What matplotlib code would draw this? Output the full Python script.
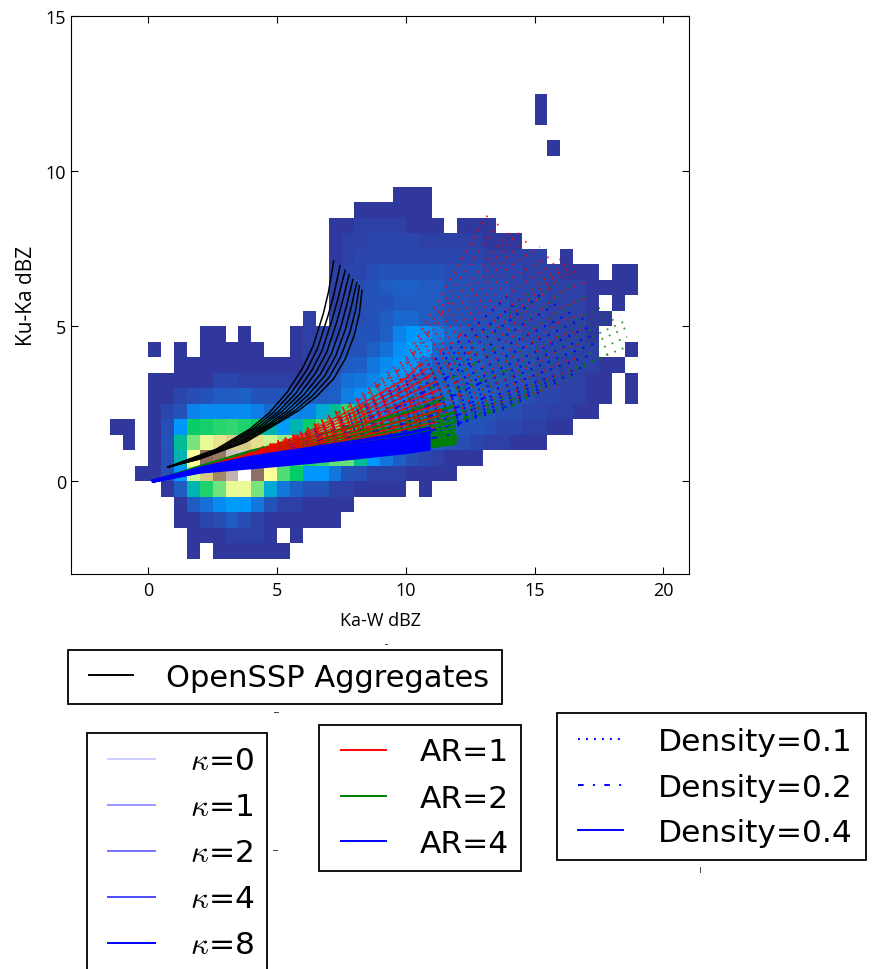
import matplotlib
matplotlib.use('Agg')
import matplotlib.pyplot as plt
from matplotlib.lines import Line2D
from matplotlib.patches import Rectangle
import numpy as np

plt.rcParams['mathtext.fontset'] = 'cm'

W, H = 872, 970

# 2d histogram, levels are in percent of the terrain colormap, 0 = empty bin
bin_size = 0.5
hist_y = [-2.5, -2, -1.5, -1, -0.5, 0, 0.5, 1, 1.5, 2, 2.5, 3, 3.5, 4, 4.5, 5, 5.5, 6, 6.5, 7, 7.5, 8, 8.5, 9,
          10.5, 11.5, 12]
hist_x0 = [1.5, 1.5, 1, 1, 0.5, -0.5, 0, -1, -1.5, 0, 0, 0, 1, 0, 2, 6, 7, 7, 7, 7, 7, 7, 8, 9.5,
           15.5, 15, 15]
hist_levels = [
    [1, 0, 1, 1, 1, 1, 1, 1],
    [1, 1, 1, 2, 2, 2, 1, 0, 1],
    [1, 1, 3, 4, 6, 4, 2, 1, 1, 1, 1, 1, 1],
    [1, 6, 9, 13, 16, 15, 10, 5, 2, 2, 1, 1, 1, 1],
    [1, 6, 20, 28, 36, 48, 48, 37, 18, 10, 7, 5, 5, 2, 2, 1, 1, 1, 1, 0, 1],
    [1, 1, 4, 15, 45, 58, 68, 88, 100, 78, 50, 33, 25, 15, 15, 10, 5, 4, 2, 2, 2, 1, 1, 1, 1],
    [1, 4, 20, 50, 72, 70, 90, 92, 62, 48, 40, 32, 28, 30, 35, 35, 22, 15, 10, 7, 4, 3, 2, 1, 1, 1],
    [1, 0, 1, 5, 22, 37, 48, 54, 57, 58, 55, 45, 40, 38, 38, 36, 33, 28, 20, 15, 12, 8, 6, 5, 6, 5, 4, 3, 2, 2, 1, 1, 1],
    [1, 1, 0, 1, 4, 15, 26, 27, 29, 30, 28, 26, 20, 16, 20, 26, 32, 36, 32, 25, 18, 15, 12, 8, 6, 6, 6, 5, 5, 4, 3, 3, 2, 2, 1, 1],
    [1, 3, 5, 12, 13, 13, 13, 13, 11, 8, 10, 12, 12, 18, 22, 30, 22, 14, 11, 9, 8, 8, 7, 6, 6, 5, 5, 4, 4, 3, 3, 2, 2, 1, 1],
    [1, 1, 3, 4, 5, 6, 6, 7, 5, 5, 5, 6, 7, 6, 7, 11, 14, 18, 14, 11, 9, 8, 8, 8, 7, 7, 6, 5, 4, 4, 3, 3, 2, 2, 1, 1, 0, 1],
    [1, 1, 1, 1, 1, 3, 3, 2, 2, 2, 2, 2, 3, 4, 6, 9, 10, 12, 16, 14, 10, 8, 7, 7, 6, 6, 5, 5, 4, 4, 3, 3, 2, 2, 1, 1, 0, 1],
    [1, 1, 1, 1, 1, 1, 1, 1, 1, 1, 2, 3, 4, 6, 7, 10, 13, 15, 14, 9, 7, 7, 7, 6, 5, 5, 4, 4, 3, 3, 2, 2, 2, 1, 1],
    [1, 0, 1, 0, 1, 1, 1, 1, 1, 0, 0, 1, 2, 3, 4, 5, 5, 7, 9, 14, 16, 15, 8, 7, 6, 6, 5, 5, 4, 4, 3, 3, 3, 2, 2, 0, 0, 1],
    [1, 1, 0, 1, 0, 0, 0, 1, 2, 3, 3, 4, 5, 5, 7, 12, 15, 14, 11, 8, 6, 5, 5, 4, 4, 3, 3, 3, 2, 2, 1],
    [2, 0, 3, 3, 4, 5, 6, 8, 8, 6, 6, 5, 5, 4, 4, 4, 3, 3, 3, 2, 2, 2, 1, 1],
    [2, 3, 4, 5, 5, 6, 6, 6, 6, 5, 5, 4, 4, 4, 3, 3, 3, 2, 2, 2, 1, 0, 1],
    [2, 3, 4, 5, 6, 7, 7, 6, 6, 5, 5, 4, 4, 4, 3, 3, 3, 2, 2, 2, 1, 1, 1, 1],
    [2, 3, 3, 4, 5, 5, 5, 5, 5, 4, 4, 4, 3, 3, 3, 2, 2, 2, 1, 1, 1, 0, 1, 1],
    [1, 2, 3, 3, 3, 3, 3, 3, 3, 3, 3, 3, 2, 2, 2, 2, 2, 0, 1],
    [1, 2, 2, 3, 3, 3, 3, 2, 2, 2, 2, 2, 1, 1, 1],
    [1, 1, 2, 2, 2, 2, 1, 1, 1, 0, 1, 1, 1],
    [1, 1, 1, 1, 1, 1],
    [1, 1, 1],
    [1],
    [1],
    [1],
]

# model curves, y read at these x positions and then a last tip point
knots = [0.2, 2, 4, 6, 8, 10, 12, 14, 16]

blue_solid_y = [
    [0, .29, .43, .58, .74, .92], [0, .30, .47, .63, .80, .99], [0, .31, .51, .68, .86, 1.06],
    [0, .33, .55, .73, .92, 1.13], [0, .34, .59, .79, .99, 1.21], [0, .36, .64, .85, 1.07, 1.30],
    [0, .38, .70, .93, 1.16, 1.40], [0, .41, .77, 1.02, 1.27, 1.53],
]
blue_solid_tip = [(10.9, 1.03), (10.9, 1.10), (10.9, 1.18), (10.9, 1.26), (10.9, 1.35), (10.9, 1.45), (10.9, 1.56), (10.9, 1.70)]

green_solid_y = [
    [0, .30, .47, .64, .81, 1.00], [0, .31, .50, .68, .86, 1.06], [0, .32, .53, .72, .92, 1.13], [0, .33, .565, .77, .98, 1.2],
    [0, .34, .60, .82, 1.04, 1.28], [0, .355, .64, .88, 1.11, 1.37], [0, .37, .68, .94, 1.19, 1.47], [0, .385, .73, 1.0, 1.28, 1.58],
    [0, .40, .78, 1.07, 1.37, 1.69], [0, .42, .84, 1.15, 1.48, 1.83], [0, .44, .90, 1.24, 1.59, 1.97], [0, .47, .97, 1.36, 1.76, 2.2],
]
green_solid_tip = [(11.9, 1.20), (11.95, 1.28), (11.95, 1.36), (11.95, 1.45), (11.9, 1.55), (11.9, 1.65), (11.9, 1.77), (11.9, 1.9),
                   (11.9, 2.05), (11.85, 2.2), (11.8, 2.4), (11.5, 2.65)]

red_solid_y = [
    [0, .42, .90, 1.50, 2.35, 3.3], [0, .41, .87, 1.44, 2.22, 3.12], [0, .40, .84, 1.38, 2.10, 2.95], [0, .39, .81, 1.31, 1.97, 2.75],
    [0, .38, .78, 1.25, 1.85, 2.55], [0, .37, .75, 1.18, 1.73, 2.35], [0, .36, .72, 1.12, 1.62, 2.15], [0, .35, .685, 1.06, 1.51, 1.97],
    [0, .34, .65, 1.00, 1.40, 1.80], [0, .335, .625, .95, 1.31, 1.67], [0, .33, .60, .90, 1.22, 1.55],
]
red_solid_tip = [(10.6, 3.8), (10.8, 3.62), (11.0, 3.45), (11.15, 3.2), (11.3, 2.95), (11.35, 2.72), (11.4, 2.5), (11.35, 2.3),
                 (11.3, 2.1), (11.2, 1.9), (11.1, 1.72)]

red_dashdot_y = [
    [0, .42, .93, 1.55, 2.5, 3.75], [0, .40, .88, 1.45, 2.25, 3.35, 4.6], [0, .38, .82, 1.32, 2.0, 2.9, 3.9],
    [0, .36, .76, 1.2, 1.78, 2.45, 3.2], [0, .35, .7, 1.1, 1.58, 2.1, 2.7], [0, .33, .65, 1.0, 1.4, 1.85],
]
red_dashdot_tip = [(11.9, 6.0), (12.4, 5.0), (12.6, 4.2), (12.6, 3.4), (12.2, 2.8), (11.6, 2.3)]

green_dashdot_y = [
    [0, .38, .82, 1.3, 1.9, 2.6, 3.4], [0, .36, .76, 1.2, 1.72, 2.3, 2.95], [0, .34, .68, 1.03, 1.42, 1.8, 2.2, 2.6],
    [0, .33, .63, .95, 1.3, 1.62, 1.97, 2.43], [0, .33, .62, .93, 1.25, 1.55, 1.95], [0, .32, .6, .88, 1.18, 1.5, 1.98],
]
green_dashdot_tip = [(13.5, 4.3), (14, 3.6), (14.8, 2.8), (14.4, 2.5), (13.5, 2.25), (12.5, 2.1)]

blue_dashdot_y = [
    [0, .38, .8, 1.27, 1.85, 2.5, 3.55], [0, .36, .74, 1.15, 1.62, 2.15, 2.8], [0, .34, .68, 1.03, 1.42, 1.85, 2.38],
    [0, .33, .62, .93, 1.27, 1.62, 2.12], [0, .32, .57, .84, 1.12, 1.42, 1.84], [0, .31, .53, .76, .99, 1.23],
]
blue_dashdot_tip = [(12.5, 3.8), (13, 3.2), (13.1, 2.7), (12.6, 2.3), (12.2, 1.9), (11.8, 1.5)]

red_dotted_y = [
    [0, .42, .95, 1.6, 2.6, 3.95, 6.9], [0, .415, .935, 1.575, 2.525, 3.82, 6.4], [0, .41, .92, 1.55, 2.45, 3.7, 5.9],
    [0, .405, .90, 1.51, 2.375, 3.55, 5.55, 7.7], [0, .40, .88, 1.47, 2.3, 3.4, 5.2, 7.3], [0, .395, .86, 1.425, 2.225, 3.25, 4.9, 6.9],
    [0, .39, .84, 1.38, 2.15, 3.1, 4.6, 6.5], [0, .385, .82, 1.34, 2.075, 2.97, 4.35, 6.05], [0, .38, .8, 1.3, 2.0, 2.85, 4.1, 5.6, 6.9],
    [0, .375, .78, 1.26, 1.925, 2.72, 3.85, 5.25, 6.75], [0, .37, .76, 1.22, 1.85, 2.6, 3.6, 4.9, 6.6], [0, .365, .74, 1.18, 1.77, 2.47, 3.4, 4.55, 6.1],
    [0, .36, .72, 1.15, 1.7, 2.35, 3.2, 4.2, 5.6], [0, .355, .70, 1.11, 1.62, 2.22, 3.0, 3.9, 5.15], [0, .35, .68, 1.08, 1.55, 2.1, 2.8, 3.6, 4.7],
    [0, .345, .665, 1.04, 1.47, 2.0, 2.62, 3.32, 4.25], [0, .34, .65, 1.0, 1.4, 1.9, 2.45, 3.05, 3.8], [0, .335, .625, .96, 1.33, 1.8, 2.3, 2.82, 3.45],
    [0, .33, .6, .92, 1.27, 1.7, 2.15, 2.6, 3.1],
]
red_dotted_tip = [(13.2, 8.6), (13.6, 8.3), (14, 8.0), (14.4, 8.0), (14.8, 7.8), (15.2, 7.55), (15.7, 7.3), (16, 7.15), (16.2, 7.0),
                  (16.5, 6.9), (16.8, 6.8), (16.9, 6.4), (17, 5.9), (17, 5.4), (17, 4.9), (16.9, 4.45), (16.8, 4.0), (16.4, 3.55), (16, 3.1)]

green_dotted_y = [
    [0, .40, .88, 1.42, 2.15, 3.0, 4.1, 5.4], [0, .395, .86, 1.385, 2.075, 2.87, 3.9, 5.1, 6.5], [0, .39, .84, 1.35, 2.0, 2.75, 3.7, 4.8, 6.0],
    [0, .38, .81, 1.3, 1.91, 2.6, 3.45, 4.4, 5.45], [0, .37, .78, 1.25, 1.82, 2.45, 3.2, 4.0, 4.95], [0, .365, .76, 1.21, 1.75, 2.35, 3.05, 3.8, 4.68],
    [0, .36, .74, 1.17, 1.68, 2.25, 2.9, 3.6, 4.4], [0, .355, .72, 1.135, 1.625, 2.16, 2.76, 3.42, 4.18], [0, .35, .7, 1.1, 1.57, 2.07, 2.63, 3.25, 3.95],
    [0, .345, .68, 1.065, 1.51, 1.97, 2.49, 3.05, 3.7], [0, .34, .66, 1.03, 1.45, 1.88, 2.35, 2.85, 3.45], [0, .335, .645, 1.0, 1.4, 1.81, 2.27, 2.77, 3.42],
    [0, .33, .63, .97, 1.35, 1.75, 2.2, 2.7, 3.4], [0, .33, .615, .945, 1.305, 1.68, 2.11, 2.6, 3.3], [0, .33, .6, .92, 1.26, 1.62, 2.02, 2.5, 3.2],
    [0, .325, .59, .895, 1.22, 1.56, 1.94, 2.42], [0, .32, .58, .87, 1.18, 1.5, 1.87, 2.35],
]
green_dotted_tip = [(15.5, 6.6), (16, 6.55), (16.5, 6.4), (17.1, 6.0), (17.7, 5.65), (18, 5.45), (18.3, 5.3), (18.5, 5.15), (18.7, 5.0),
                    (18.6, 4.65), (18.5, 4.3), (18, 4.15), (17.6, 4.0), (17, 3.7), (16.5, 3.4), (15.8, 3.1), (15, 2.8)]

blue_dotted_y = [
    [0, .41, .9, 1.48, 2.25, 3.2, 4.45], [0, .405, .88, 1.44, 2.175, 3.07, 4.2, 5.55], [0, .40, .86, 1.4, 2.1, 2.95, 3.95, 5.15],
    [0, .39, .83, 1.35, 2.0, 2.77, 3.7, 4.75], [0, .38, .8, 1.3, 1.9, 2.6, 3.45, 4.4, 5.25], [0, .375, .775, 1.25, 1.815, 2.46, 3.22, 4.07, 4.9],
    [0, .37, .75, 1.2, 1.73, 2.33, 3.0, 3.75, 4.55], [0, .36, .73, 1.16, 1.665, 2.22, 2.85, 3.52, 4.27], [0, .35, .71, 1.12, 1.6, 2.12, 2.7, 3.3, 4.0],
    [0, .345, .69, 1.085, 1.53, 2.01, 2.55, 3.1, 3.72], [0, .34, .67, 1.05, 1.46, 1.9, 2.4, 2.9, 3.45], [0, .335, .65, 1.015, 1.405, 1.82, 2.28, 2.78, 3.3],
    [0, .33, .63, .98, 1.35, 1.74, 2.17, 2.65], [0, .325, .61, .94, 1.285, 1.65, 2.04, 2.55], [0, .32, .59, .9, 1.22, 1.56, 1.92, 2.45],
    [0, .32, .575, .865, 1.16, 1.475, 1.85, 2.37], [0, .32, .56, .83, 1.1, 1.39, 1.78],
]
blue_dotted_tip = [(14, 6.0), (14.6, 6.0), (15.2, 6.0), (15.9, 5.75), (16.5, 5.5), (16.9, 5.25), (17.2, 5.0), (17.4, 4.75), (17.5, 4.5),
                   (17.3, 4.1), (17, 3.7), (16.5, 3.45), (16, 3.2), (15.3, 2.9), (14.5, 2.6), (13.8, 2.4), (13, 2.2)]

# OpenSSP aggregates
ssp_x = [
    [.77, 1.5, 2.65, 3.95, 4.7, 5.4, 6.0, 6.4, 6.8, 7.0, 7.2],
    [.77, 1.57, 2.81, 4.11, 4.86, 5.56, 6.17, 6.58, 6.97, 7.2, 7.45],
    [.77, 1.64, 2.98, 4.28, 5.03, 5.73, 6.34, 6.76, 7.14, 7.37, 7.65],
    [.77, 1.71, 3.14, 4.44, 5.19, 5.89, 6.51, 6.94, 7.31, 7.54, 7.8],
    [.77, 1.79, 3.31, 4.61, 5.36, 6.06, 6.69, 7.12, 7.49, 7.71, 7.95],
    [.77, 1.86, 3.47, 4.77, 5.52, 6.22, 6.86, 7.29, 7.66, 7.88, 8.1],
    [.77, 1.93, 3.64, 4.94, 5.69, 6.39, 7.03, 7.47, 7.83, 8.05, 8.2],
    [.77, 2.0, 3.8, 5.1, 5.85, 6.55, 7.2, 7.65, 8.0, 8.2, 8.3],
]
ssp_y = [
    [.45, .68, 1.03, 1.68, 2.2, 2.87, 3.65, 4.35, 5.4, 6.1, 7.1],
    [.45, .68, 1.06, 1.71, 2.21, 2.85, 3.6, 4.29, 5.3, 5.99, 6.95],
    [.45, .69, 1.10, 1.74, 2.22, 2.83, 3.55, 4.23, 5.2, 5.89, 6.8],
    [.45, .69, 1.13, 1.77, 2.24, 2.81, 3.5, 4.17, 5.1, 5.79, 6.65],
    [.45, .69, 1.16, 1.80, 2.25, 2.80, 3.45, 4.12, 5.0, 5.69, 6.5],
    [.45, .70, 1.19, 1.84, 2.26, 2.78, 3.4, 4.06, 4.9, 5.6, 6.4],
    [.45, .70, 1.23, 1.87, 2.27, 2.76, 3.35, 4.0, 4.8, 5.5, 6.3],
    [.45, .71, 1.26, 1.9, 2.28, 2.74, 3.3, 3.94, 4.7, 5.4, 6.15],
]

kappa_labels = ['$\\kappa$=0', '$\\kappa$=1', '$\\kappa$=2', '$\\kappa$=4', '$\\kappa$=8']
kappa_alpha = [0.2, 0.4, 0.55, 0.7, 1.0]
ar_labels = ['AR=1', 'AR=2', 'AR=4']
ar_colors = ['red', 'green', 'blue']
density_labels = ['Density=0.1', 'Density=0.2', 'Density=0.4']

dots = (0, (1, 3.5))
dash_dot = (0, (2.9, 4.8, 1, 4.8))


def draw_fan(ax, rows, tips, color, ls, lw, alpha):
    for y, tip in zip(rows, tips):
        ax.plot(knots[:len(y)] + [tip[0]], y + [tip[1]], color=color, ls=ls, lw=lw, alpha=alpha)


def box_legend(fig, box, line_x, text_x, rows, labels, styles, size=22.5):
    # the legends are separate pasted boxes, so they are placed by pixel
    l, t, r, b = box
    fig.add_artist(Rectangle((l / W, 1 - b / H), (r - l) / W, (b - t) / H, transform=fig.transFigure,
                             fc='white', ec='black', lw=1.3))
    for y, label, style in zip(rows, labels, styles):
        fig.add_artist(Line2D([line_x[0] / W, line_x[1] / W], [1 - y / H, 1 - y / H], lw=1.4, **style))
        fig.text(text_x / W, 1 - (y + 11) / H, label, fontsize=size, va='baseline', ha='left')


fig = plt.figure(figsize=(W / 100, H / 100), dpi=100)
ax = fig.add_axes([71 / W, 1 - 575 / H, (689 - 71) / W, (575 - 17) / H])

x_edges = np.arange(-1.5, 19.01, bin_size)
y_edges = np.arange(-2.5, 12.51, bin_size)
grid = np.zeros((len(y_edges) - 1, len(x_edges) - 1))
for y0, x0, row in zip(hist_y, hist_x0, hist_levels):
    i = int(round((y0 - y_edges[0]) / bin_size))
    j = int(round((x0 - x_edges[0]) / bin_size))
    grid[i, j:j + len(row)] = row
ax.pcolormesh(x_edges, y_edges, np.ma.masked_equal(grid, 0), cmap='terrain', vmin=0, vmax=100)

draw_fan(ax, green_dotted_y, green_dotted_tip, 'green', dots, 1.3, 0.8)
draw_fan(ax, blue_dotted_y, blue_dotted_tip, 'blue', dots, 1.5, 0.9)
draw_fan(ax, red_dotted_y, red_dotted_tip, 'red', dots, 1.3, 0.85)
draw_fan(ax, green_dashdot_y, green_dashdot_tip, 'green', dash_dot, 1.3, 0.8)
draw_fan(ax, green_solid_y, green_solid_tip, 'green', '-', 2.0, 1.0)
draw_fan(ax, blue_dashdot_y, blue_dashdot_tip, 'blue', dash_dot, 1.5, 0.9)
draw_fan(ax, red_dashdot_y, red_dashdot_tip, 'red', dash_dot, 1.3, 0.8)
draw_fan(ax, red_solid_y, red_solid_tip, 'red', '-', 1.1, 0.85)
draw_fan(ax, blue_solid_y, blue_solid_tip, 'blue', '-', 2.4, 1.0)

for x, y in zip(ssp_x, ssp_y):
    ax.plot(x, y, color='black', lw=1.1)

ax.set_xlim(-3, 21)
ax.set_ylim(-3, 15)
ax.set_xticks([0, 5, 10, 15, 20])
ax.set_yticks([0, 5, 10, 15])
ax.tick_params(direction='in', top=True, right=True, length=5, width=0.8, labelsize=13)
ax.tick_params(axis='x', pad=5)
for lab in ax.get_xticklabels() + ax.get_yticklabels():
    lab.set_family('Open Sans')
ax.set_xlabel('Ka-W dBZ', family='Open Sans', fontsize=13, labelpad=9)
ax.set_ylabel('Ku-Ka dBZ', family='Open Sans', fontsize=15, labelpad=6)

box_legend(fig, (68, 651, 502, 705), (89, 133), 166, [676], ['OpenSSP Aggregates'], [dict(color='black')], size=22)
box_legend(fig, (87, 734, 267, 990), (108, 155), 190, [759.5, 805.5, 851.5, 897.5, 943.5], kappa_labels,
           [dict(color='blue', alpha=a) for a in kappa_alpha])
box_legend(fig, (319, 726, 521, 872), (341, 386), 420, [750.5, 796.5, 842], ar_labels, [dict(color=c) for c in ar_colors])
box_legend(fig, (557, 714, 866, 861), (578, 623), 658, [740, 786, 831], density_labels,
           [dict(color='blue', ls=(0, (1, 3.1))), dict(color='blue', ls=dash_dot), dict(color='blue')])

# stray tick marks left over in the pasted legends
for xs, ys in [((385, 387), (645, 645)), ((274, 278), (713, 713)), ((273, 277), (851, 851)), ((700, 700), (868, 873))]:
    fig.add_artist(Line2D([v / W for v in xs], [1 - v / H for v in ys], color='#444444', lw=0.7))

fig.savefig('out.png', dpi=100)
